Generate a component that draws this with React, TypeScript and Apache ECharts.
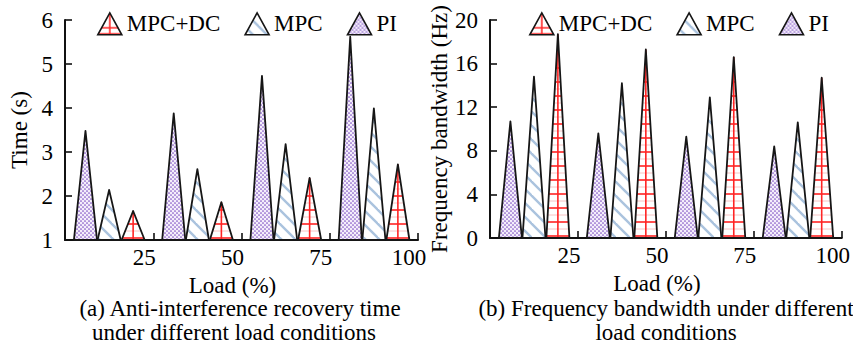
import React, { useEffect, useRef } from 'react';
import * as echarts from 'echarts';

// ---------- data ----------
const categories = ['25', '50', '75', '100'];
const loadTicks = { min: 0, max: 100, interval: 25 };
const legendOrder = ['MPC+DC', 'MPC', 'PI'];

const timePI = [3.48, 3.88, 4.73, 5.62];
const timeMPC = [2.14, 2.61, 3.18, 3.99];
const timeDC = [1.66, 1.86, 2.41, 2.72];
const timeAxis = { min: 1, max: 6, interval: 1 };

const bwPI = [10.7, 9.6, 9.3, 8.4];
const bwMPC = [14.8, 14.2, 12.9, 10.6];
const bwDC = [18.7, 17.3, 16.6, 14.7];
const bwAxis = { min: 0, max: 20, interval: 4 };

const FONT = '"Liberation Serif", "Times New Roman", serif';
const FS = 23;

function tile(w: number, h: number, draw: (ctx: CanvasRenderingContext2D) => void) {
  const c = document.createElement('canvas');
  c.width = w;
  c.height = h;
  const ctx = c.getContext('2d') as CanvasRenderingContext2D;
  draw(ctx);
  return { image: c.toDataURL(), repeat: 'repeat', imageWidth: w, imageHeight: h };
}

function makePatterns() {
  const pi = tile(4, 4, (ctx) => {
    ctx.fillStyle = '#f4eefb';
    ctx.fillRect(0, 0, 4, 4);
    ctx.fillStyle = '#7e50c2';
    ctx.beginPath();
    ctx.arc(1, 1, 0.85, 0, Math.PI * 2);
    ctx.fill();
    ctx.beginPath();
    ctx.arc(3, 3, 0.85, 0, Math.PI * 2);
    ctx.fill();
  });
  const mpc = tile(14, 14, (ctx) => {
    ctx.fillStyle = '#ffffff';
    ctx.fillRect(0, 0, 14, 14);
    ctx.strokeStyle = '#aac3de';
    ctx.lineWidth = 2.4;
    for (const c of [-14, 0, 14]) {
      ctx.beginPath();
      ctx.moveTo(-2, c - 2);
      ctx.lineTo(16, c + 16);
      ctx.stroke();
    }
  });
  const dcLegend = tile(24, 22, (ctx) => {
    ctx.fillStyle = '#ffffff';
    ctx.fillRect(0, 0, 24, 22);
    ctx.strokeStyle = '#ff2a2a';
    ctx.lineWidth = 1.6;
    ctx.beginPath();
    ctx.moveTo(12, 0);
    ctx.lineTo(12, 22);
    ctx.moveTo(0, 15);
    ctx.lineTo(24, 15);
    ctx.moveTo(0, 21);
    ctx.lineTo(24, 21);
    ctx.stroke();
  });
  return { pi, mpc, dcLegend };
}

type Kind = 'PI' | 'MPC' | 'DC';

function makeRender(kind: Kind, offsetFrac: number, yMin: number, fills: any) {
  const widthFrac = 0.262;
  return (params: any, api: any) => {
    const cat = api.value(0);
    const val = api.value(1);
    const top = api.coord([cat, val]);
    const base = api.coord([cat, yMin]);
    const band = api.size([1, 0])[0];
    const cx = top[0] + offsetFrac * band;
    const hw = (widthFrac * band) / 2;
    const by = base[1];
    const ty = top[1];
    const pts = [
      [cx - hw, by],
      [cx + hw, by],
      [cx, ty],
    ];
    const children: any[] = [];
    children.push({
      type: 'polygon',
      shape: { points: pts },
      style: { fill: kind === 'DC' ? '#ffffff' : kind === 'PI' ? fills.pi : fills.mpc, stroke: null },
    });
    if (kind === 'DC') {
      const h = by - ty;
      let k = 0;
      for (let y = by - 2; y > ty + 4; y -= 7, k++) {
        const w = (hw * (y - ty)) / h;
        const strong = k % 2 === 0;
        children.push({
          type: 'line',
          shape: { x1: cx - w, y1: y, x2: cx + w, y2: y },
          style: { stroke: strong ? '#ff2424' : '#f8c4c4', lineWidth: strong ? 1.6 : 1 },
        });
      }
      children.push({
        type: 'line',
        shape: { x1: cx, y1: by, x2: cx, y2: ty },
        style: { stroke: '#ff2424', lineWidth: 1.6 },
      });
    }
    children.push({
      type: 'polygon',
      shape: { points: pts },
      style: { fill: null, stroke: '#161616', lineWidth: 1.8, lineJoin: 'round' },
    });
    return { type: 'group', children };
  };
}

function buildOption(fills: any) {
  const textStyle = { fontFamily: FONT, fontSize: FS, color: '#000' };
  const axisLineStyle = { lineStyle: { color: '#111', width: 2 } };
  const tickStyle = { inside: true, length: 7, lineStyle: { color: '#111', width: 1.6 } };

  const valueX = (gridIndex: number) => ({
    type: 'value',
    gridIndex,
    position: 'bottom',
    min: loadTicks.min,
    max: loadTicks.max,
    interval: loadTicks.interval,
    axisLine: axisLineStyle,
    axisTick: tickStyle,
    splitLine: { show: false },
    axisLabel: {
      ...textStyle,
      margin: 6,
      padding: [0, 18, 0, 0],
      formatter: (v: number) => (v === 0 ? '' : String(v)),
    },
    name: 'Load (%)',
    nameLocation: 'middle',
    nameGap: 28,
    nameTextStyle: { ...textStyle, padding: [0, 18, 0, 0] },
  });
  const catX = (gridIndex: number) => ({
    type: 'category',
    gridIndex,
    position: 'bottom',
    data: categories,
    show: false,
    boundaryGap: true,
  });
  const valueY = (gridIndex: number, ax: any, name: string, nameGap: number) => ({
    type: 'value',
    gridIndex,
    min: ax.min,
    max: ax.max,
    interval: ax.interval,
    axisLine: { show: true, ...axisLineStyle },
    axisTick: { show: true, ...tickStyle },
    splitLine: { show: false },
    axisLabel: { ...textStyle, margin: 12 },
    name,
    nameLocation: 'middle',
    nameGap,
    nameTextStyle: textStyle,
  });

  const legendData = [
    { name: 'MPC+DC', icon: 'triangle', itemStyle: { color: fills.dcLegend, borderColor: '#161616', borderWidth: 1.6 } },
    { name: 'MPC', icon: 'triangle', itemStyle: { color: fills.mpc, borderColor: '#161616', borderWidth: 1.6 } },
    { name: 'PI', icon: 'triangle', itemStyle: { color: fills.pi, borderColor: '#161616', borderWidth: 1.6 } },
  ];
  const legend = (left: number) => ({
    left,
    top: 12,
    padding: 0,
    itemWidth: 24,
    itemHeight: 22,
    itemGap: 24,
    symbolKeepAspect: false,
    selectedMode: false,
    textStyle: { ...textStyle },
    data: legendOrder.map((n) => legendData.find((d) => d.name === n)),
  });

  const seriesFor = (xIdx: number, yIdx: number, yMin: number, pi: number[], mpc: number[], dc: number[]) => [
    {
      type: 'custom',
      name: 'PI',
      xAxisIndex: xIdx,
      yAxisIndex: yIdx,
      itemStyle: { color: fills.pi },
      encode: { x: 0, y: 1 },
      data: pi.map((v, i) => [i, v]),
      renderItem: makeRender('PI', -0.268, yMin, fills),
    },
    {
      type: 'custom',
      name: 'MPC',
      xAxisIndex: xIdx,
      yAxisIndex: yIdx,
      itemStyle: { color: fills.mpc },
      encode: { x: 0, y: 1 },
      data: mpc.map((v, i) => [i, v]),
      renderItem: makeRender('MPC', 0, yMin, fills),
    },
    {
      type: 'custom',
      name: 'MPC+DC',
      xAxisIndex: xIdx,
      yAxisIndex: yIdx,
      itemStyle: { color: fills.dcLegend },
      encode: { x: 0, y: 1 },
      data: dc.map((v, i) => [i, v]),
      renderItem: makeRender('DC', 0.272, yMin, fills),
    },
  ];

  const cap = (x: number, y: number, text: string) => ({
    type: 'text',
    x,
    y,
    style: { text, align: 'center', verticalAlign: 'middle', fontFamily: FONT, fontSize: FS, fill: '#000' },
  });

  return {
    animation: false,
    backgroundColor: '#fff',
    grid: [
      { left: 65, top: 20, width: 353, height: 220 },
      { left: 490, top: 20, width: 353, height: 218 },
    ],
    xAxis: [catX(0), valueX(0), catX(1), valueX(1)],
    yAxis: [valueY(0, timeAxis, 'Time (s)', 34), valueY(1, bwAxis, 'Frequency bandwidth (Hz)', 37)],
    legend: [legend(97), legend(529)],
    series: [
      ...seriesFor(0, 0, timeAxis.min, timePI, timeMPC, timeDC),
      ...seriesFor(2, 1, bwAxis.min, bwPI, bwMPC, bwDC),
    ],
    graphic: [
      cap(240, 308, '(a) Anti-interference recovery time'),
      cap(234, 332, 'under different load conditions'),
      cap(666, 308, '(b) Frequency bandwidth under different'),
      cap(666, 332, 'load conditions'),
    ],
  };
}

export default function App() {
  const ref = useRef<HTMLDivElement>(null);
  useEffect(() => {
    if (!ref.current) return;
    const chart = echarts.init(ref.current, null, { renderer: 'svg' });
    chart.setOption(buildOption(makePatterns()) as any);
    return () => chart.dispose();
  }, []);
  return <div ref={ref} style={{ width: 853, height: 345, position: 'absolute', left: 0, top: 0 }} />;
}
